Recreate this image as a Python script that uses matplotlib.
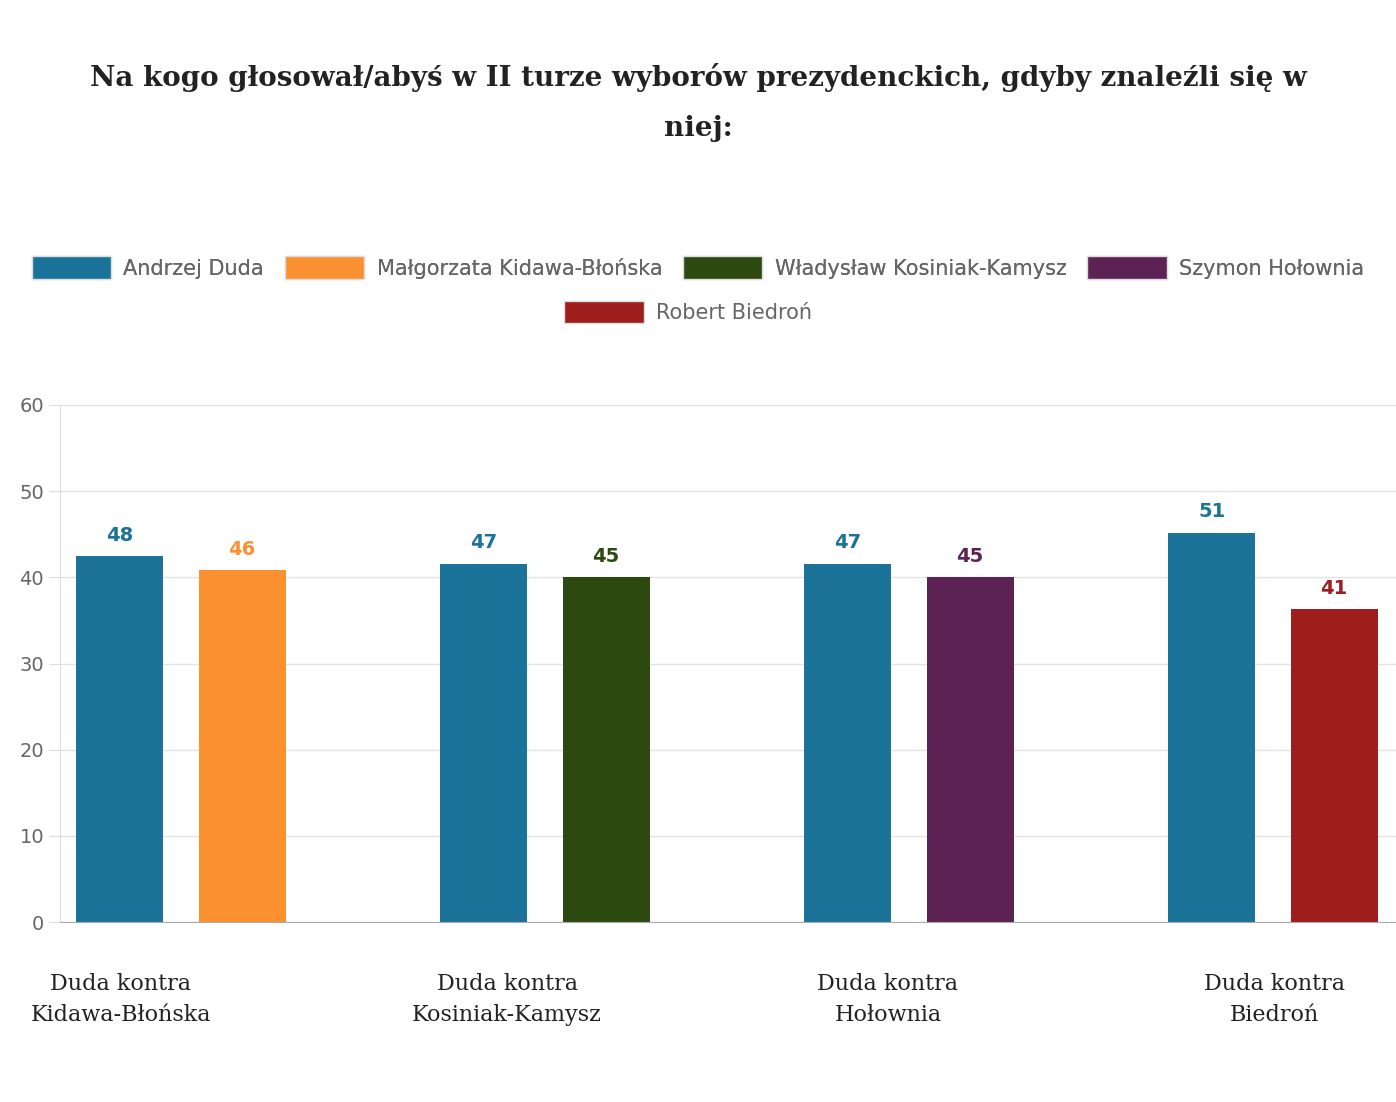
import matplotlib.pyplot as plt
from matplotlib.patches import Patch
import numpy as np

groups = ["Duda kontra\nKidawa-Błońska", "Duda kontra\nKosiniak-Kamysz",
          "Duda kontra\nHołownia", "Duda kontra\nBiedroń"]
duda_labels = [48, 47, 47, 51]
rival_labels = [46, 45, 45, 41]
# bar heights as drawn in the source chart (scaled differently from the labels)
duda_heights = [42.5, 41.6, 41.6, 45.2]
rival_heights = [40.8, 40.0, 40.0, 36.3]
rival_names = ["Małgorzata Kidawa-Błońska", "Władysław Kosiniak-Kamysz",
               "Szymon Hołownia", "Robert Biedroń"]
DUDA = "#1c7399"
RIVAL_COLOURS = ["#fb9131", "#2c4a10", "#5c2253", "#9e1e1e"]

fig = plt.figure(figsize=(13.96, 11.02), dpi=100)
ax = fig.add_axes([0.043, 0.1633, 0.957, 0.4692])

x = np.arange(len(groups))
off, w = 0.168, 0.239
ax.bar(x - off, duda_heights, w, color=DUDA, zorder=2)
ax.bar(x + off, rival_heights, w, color=RIVAL_COLOURS, zorder=2)
for i in range(len(groups)):
    ax.text(x[i] - off, duda_heights[i] + 1.3, str(duda_labels[i]), ha="center", va="bottom",
            color=DUDA, fontsize=14, fontweight="bold")
    ax.text(x[i] + off, rival_heights[i] + 1.3, str(rival_labels[i]), ha="center", va="bottom",
            color=RIVAL_COLOURS[i], fontsize=14, fontweight="bold")

ax.set_xlim(-0.332, 3.338)
ax.set_ylim(0, 60)
ax.set_yticks(range(0, 61, 10))
ax.tick_params(axis="y", colors="#666666", labelsize=14, length=8, color="#dddddd")
ax.set_xticks([])
label_x = x + np.array([-0.165, -0.104, -0.058, 0.005])
for lx, g in zip(label_x, groups):
    ax.text(lx, -9.0, g, ha="center", va="center", fontfamily="DejaVu Serif", fontsize=16,
            color="#222222", linespacing=1.5)
ax.grid(axis="y", color="#e3e3e3", linewidth=1, zorder=0)
for s in ["top", "right"]:
    ax.spines[s].set_visible(False)
ax.spines["left"].set_color("#dddddd")
ax.spines["bottom"].set_color("#aaaaaa")

fig.text(0.5, 0.907, "Na kogo głosował/abyś w II turze wyborów prezydenckich, gdyby znaleźli się w\nniej:",
         ha="center", va="center", fontfamily="DejaVu Serif", fontweight="bold", fontsize=20,
         linespacing=2.1, color="#222222")

handles = [Patch(facecolor=DUDA, edgecolor="#dddddd", label="Andrzej Duda")] + \
    [Patch(facecolor=c, edgecolor="#dddddd", label=n) for c, n in zip(RIVAL_COLOURS[:3], rival_names[:3])]
leg1 = fig.legend(handles=handles, loc="center", bbox_to_anchor=(0.5, 0.757), ncol=4, frameon=False,
                  fontsize=15, handlelength=3.8, handleheight=1.3, columnspacing=1.0, handletextpad=0.6,
                  labelcolor="#666666")
fig.legend(handles=[Patch(facecolor=RIVAL_COLOURS[3], edgecolor="#dddddd", label=rival_names[3])],
           loc="center", bbox_to_anchor=(0.493, 0.717), frameon=False, fontsize=15,
           handlelength=3.8, handleheight=1.3, handletextpad=0.6, labelcolor="#666666")
fig.add_artist(leg1)

fig.savefig("out.png", dpi=100)
